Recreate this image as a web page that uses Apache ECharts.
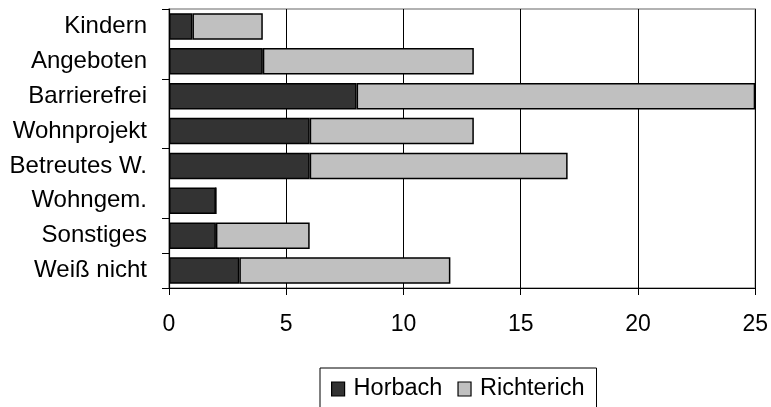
<!DOCTYPE html>
<html><head><meta charset="utf-8">
<script src="https://cdn.jsdelivr.net/npm/echarts@6/dist/echarts.min.js"></script>
<style>html,body{margin:0;padding:0;background:#fff}#c{width:771px;height:407px}</style>
</head><body><div id="c"></div>
<script>
const categories = ['Kindern','Angeboten','Barrierefrei','Wohnprojekt','Betreutes W.','Wohngem.','Sonstiges','Weiß nicht'];
const horbach = [1, 4, 8, 6, 6, 2, 2, 3];
const richterich = [3, 9, 17, 7, 11, 0, 4, 9];
const xTicks = [0, 5, 10, 15, 20, 25];

const font = 'Liberation Sans, Arial, sans-serif';
const chart = echarts.init(document.getElementById('c'));
chart.setOption({
  animation: false,
  backgroundColor: '#fff',
  grid: {left: 169, right: 15, top: 9, bottom: 119, show: true, borderColor: '#999', borderWidth: 1.5},
  legend: {
    data: ['Horbach', 'Richterich'],
    left: 320, top: 368,
    backgroundColor: '#fff', borderColor: '#000', borderWidth: 1,
    padding: [9, 12, 14, 11],
    itemWidth: 13, itemHeight: 14, itemGap: 15,
    textStyle: {fontFamily: font, fontSize: 23.5, color: '#000', padding: [0, 0, 0, 4]},
    icon: 'rect',
    itemStyle: {borderColor: '#000', borderWidth: 1.2}
  },
  xAxis: {
    type: 'value', min: xTicks[0], max: xTicks[xTicks.length - 1], interval: 5,
    axisLine: {show: true, lineStyle: {color: '#000', width: 1.2}},
    axisTick: {show: true, length: 7, lineStyle: {color: '#000'}},
    axisLabel: {fontFamily: font, fontSize: 23, color: '#000', margin: 25},
    splitLine: {show: true, lineStyle: {color: '#000', width: 1}}
  },
  yAxis: {
    type: 'category', data: categories, inverse: true,
    axisLine: {show: true, lineStyle: {color: '#000', width: 1.2}},
    axisTick: {show: true, length: 7, interval: 1, lineStyle: {color: '#000'}},
    axisLabel: {fontFamily: font, fontSize: 24, color: '#000', margin: 22, interval: 0},
    splitLine: {show: false}
  },
  series: [
    {name: 'Horbach', type: 'bar', stack: 's', data: horbach, barWidth: '76%',
     itemStyle: {color: '#333333', borderColor: '#000', borderWidth: 1.5}},
    {name: 'Richterich', type: 'bar', stack: 's', data: richterich, barWidth: '76%',
     itemStyle: {color: '#c0c0c0', borderColor: '#000', borderWidth: 1.5}}
  ]
});
</script></body></html>
